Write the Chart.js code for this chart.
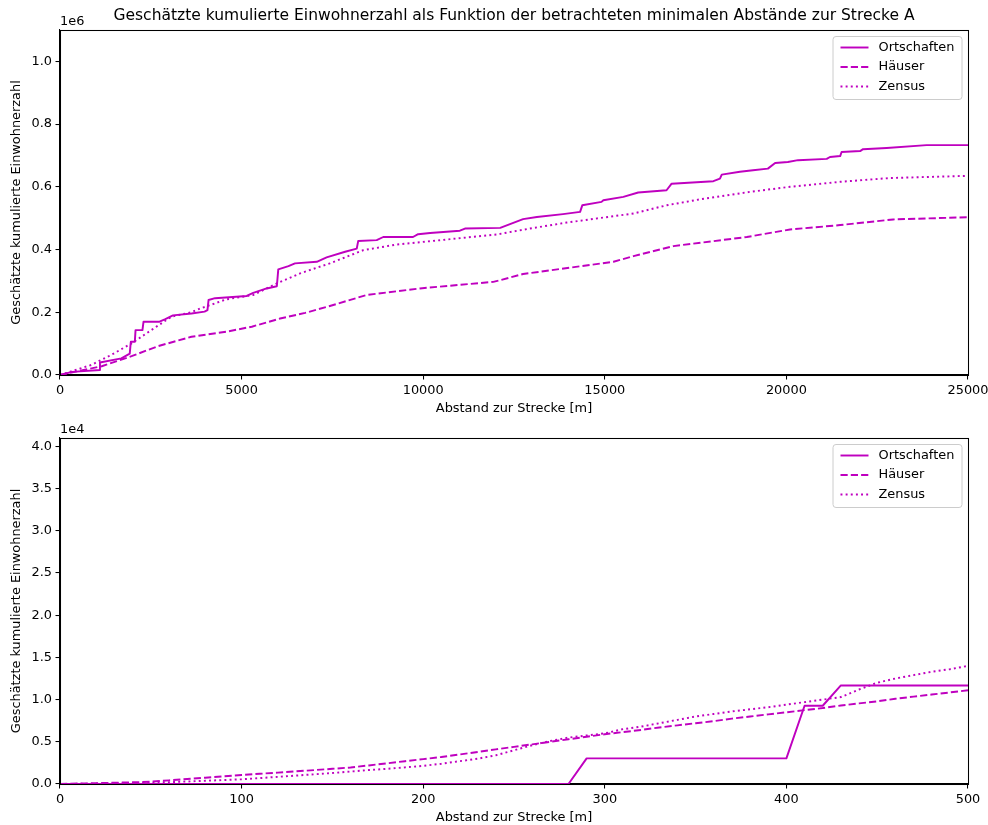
<!DOCTYPE html>
<html>
<head>
<meta charset="utf-8">
<script src="https://cdn.jsdelivr.net/npm/chart.js@4.4.0/dist/chart.umd.min.js"></script>
<style>
  html, body { margin: 0; padding: 0; background: #ffffff; }
  #wrap { position: relative; width: 988px; height: 825px; }
  canvas { position: absolute; left: 0; }
</style>
</head>
<body>
<div id="wrap">
  <canvas id="overview" width="988" height="420" style="top:0px"></canvas>
  <canvas id="nearfield" width="988" height="405" style="top:420px"></canvas>
</div>
<script>
// ---- Gesamtbereich 0 ... 25 km ----
const ortDist = [0, 330, 1100, 1100, 1690, 1920, 1950, 2060, 2080, 2270, 2300, 2740, 2900, 3110, 3620, 3980,
  4060, 4090, 4270, 5140, 5320, 5690, 5970, 6010, 6290, 6470, 7070, 7340, 7850, 8170, 8210, 8720, 8900,
  9720, 9860, 10190, 11010, 11150, 12120, 12390, 12750, 13130, 13850, 14320, 14380, 14910, 14960, 15510,
  15920, 16700, 16840, 17990, 18170, 18220, 18720, 19080, 19490, 19690, 20040, 20320, 21110, 21200, 21480,
  21520, 22030, 22110, 22760, 23860, 25000];
const ortPop = [0, 10000, 16000, 40000, 53000, 68000, 106000, 106000, 143000, 143000, 170000, 170000, 178000,
  190000, 196000, 202000, 207000, 239000, 245000, 252000, 262000, 276000, 283000, 337000, 347000, 356000,
  361000, 375000, 393000, 403000, 427000, 430000, 440000, 440000, 449000, 453000, 460000, 467000, 469000,
  481000, 497000, 504000, 513000, 520000, 541000, 552000, 557000, 568000, 582000, 589000, 610000, 618000,
  626000, 639000, 648000, 653000, 658000, 676000, 679000, 685000, 689000, 695000, 698000, 711000, 714000,
  720000, 724000, 733000, 733000];

const hausDist = [0, 1150, 1970, 2700, 3620, 4580, 5280, 6060, 6750, 7430, 8440, 9910, 11930, 12110, 12750,
  15240, 15790, 16890, 18910, 20100, 21480, 22940, 25000];
const hausPop = [0, 28000, 60000, 92000, 122000, 138000, 154000, 180000, 198000, 220000, 255000, 276000,
  297000, 302000, 322000, 361000, 379000, 411000, 440000, 464000, 478000, 496000, 503000];

const zensusDist = [0, 860, 1410, 1960, 2510, 3070, 3620, 3860, 4260, 4570, 5320, 5970, 6610, 7430, 8350,
  9270, 10650, 12020, 12940, 13950, 15790, 16700, 17620, 19000, 20100, 21480, 22850, 25000];
const zensusPop = [0, 32000, 64000, 100000, 143000, 186000, 200000, 212000, 228000, 241000, 255000, 292000,
  324000, 356000, 398000, 416000, 432000, 448000, 467000, 486000, 515000, 541000, 560000, 584000, 600000,
  616000, 628000, 635000];

const overviewXTicks = [0, 5000, 10000, 15000, 20000, 25000];
const overviewYTicks = [0, 200000, 400000, 600000, 800000, 1000000];

// ---- Nahbereich 0 ... 500 m (10-m-Raster) ----
const nearDist = [0, 10, 20, 30, 40, 50, 60, 70, 80, 90, 100, 110, 120, 130, 140, 150, 160, 170, 180, 190,
  200, 210, 220, 230, 240, 250, 260, 270, 280, 290, 300, 310, 320, 330, 340, 350, 360, 370, 380, 390,
  400, 410, 420, 430, 440, 450, 460, 470, 480, 490, 500];
const nearOrt = [0, 0, 0, 0, 0, 0, 0, 0, 0, 0, 0, 0, 0, 0, 0, 0, 0, 0, 0, 0,
  0, 0, 0, 0, 0, 0, 0, 0, 0, 3040, 3040, 3040, 3040, 3040, 3040, 3040, 3040, 3040, 3040, 3040,
  3040, 9270, 9270, 11680, 11680, 11680, 11680, 11680, 11680, 11680, 11680];
const nearHaus = [0, 50, 100, 150, 200, 270, 430, 590, 750, 910, 1070, 1210, 1350, 1500, 1650, 1800, 1960,
  2200, 2450, 2700, 2950, 3200, 3500, 3800, 4100, 4400, 4700, 5000, 5300, 5600, 5900, 6150, 6400, 6700,
  6950, 7200, 7450, 7750, 8000, 8250, 8500, 8750, 9000, 9300, 9550, 9800, 10100, 10350, 10600, 10850, 11100];
const nearZensus = [0, 20, 50, 80, 120, 160, 220, 300, 380, 470, 560, 700, 850, 1000, 1150, 1300, 1480,
  1650, 1800, 1970, 2150, 2400, 2700, 3000, 3400, 4000, 4600, 5100, 5500, 5750, 6000, 6500, 6800, 7200,
  7600, 8000, 8300, 8600, 8850, 9100, 9400, 9700, 10000, 10300, 11200, 12000, 12500, 12900, 13300, 13600, 14000];

const nearXTicks = [0, 100, 200, 300, 400, 500];
const nearYTicks = [0, 5000, 10000, 15000, 20000, 25000, 30000, 35000, 40000];

const seriesNames = ['Ortschaften', 'Häuser', 'Zensus'];
const TITLE = 'Geschätzte kumulierte Einwohnerzahl als Funktion der betrachteten minimalen Abstände zur Strecke A';
const X_LABEL = 'Abstand zur Strecke [m]';
const Y_LABEL = 'Geschätzte kumulierte Einwohnerzahl';

const MAGENTA = '#bf00bf';
const FONT = '"DejaVu Sans", sans-serif';
const FS = 12.9;
const LW = 1.94;
const DASHES = [[], [7.2, 3.1], [1.94, 3.2]];

function pts(xs, ys) { return xs.map((x, i) => ({ x: x, y: ys[i] })); }

function dataset(label, xs, ys, k) {
  return {
    label: label,
    data: pts(xs, ys),
    borderColor: MAGENTA,
    backgroundColor: MAGENTA,
    borderWidth: LW,
    borderDash: DASHES[k],
    borderCapStyle: 'butt',
    borderJoinStyle: 'round',
    pointRadius: 0,
    tension: 0,
    fill: false,
    clip: 4
  };
}

// Rahmen, Legende, Exponent und Titel
const decorations = {
  id: 'decorations',
  afterDraw(chart, args, opts) {
    const ctx = chart.ctx;
    const a = chart.chartArea;
    ctx.save();
    // vollständiger Achsenrahmen
    ctx.strokeStyle = '#000';
    ctx.lineWidth = 1.05;
    ctx.strokeRect(Math.round(a.left) + 0.5, Math.round(a.top) + 0.5,
      Math.round(a.right - a.left), Math.round(a.bottom - a.top));

    // Legende oben rechts
    const w = 129, h = 63;
    const lx = a.right - 6.5 - w, ly = a.top + 6;
    ctx.beginPath();
    if (ctx.roundRect) ctx.roundRect(lx + 0.5, ly + 0.5, w, h, 3); else ctx.rect(lx + 0.5, ly + 0.5, w, h);
    ctx.fillStyle = 'rgba(255,255,255,0.8)';
    ctx.fill();
    ctx.strokeStyle = '#cccccc';
    ctx.lineWidth = 1;
    ctx.stroke();
    ctx.font = FS + 'px ' + FONT;
    ctx.textBaseline = 'middle';
    ctx.textAlign = 'left';
    seriesNames.forEach((name, i) => {
      const cy = ly + 11.5 + i * 19.5;
      ctx.beginPath();
      ctx.setLineDash(DASHES[i]);
      ctx.lineCap = 'butt';
      ctx.strokeStyle = MAGENTA;
      ctx.lineWidth = LW;
      ctx.moveTo(lx + 8, cy);
      ctx.lineTo(lx + 36, cy);
      ctx.stroke();
      ctx.setLineDash([]);
      ctx.fillStyle = '#000';
      ctx.fillText(name, lx + 46, cy);
    });

    // Exponent der y-Achse
    ctx.fillStyle = '#000';
    ctx.font = FS + 'px ' + FONT;
    ctx.textAlign = 'left';
    ctx.textBaseline = 'alphabetic';
    ctx.fillText(opts.exponent, a.left, a.top - 5);

    // Gesamttitel
    if (opts.title) {
      ctx.font = '15.5px ' + FONT;
      ctx.textAlign = 'center';
      ctx.textBaseline = 'middle';
      ctx.fillText(opts.title, (a.left + a.right) / 2, 16);
    }
    ctx.restore();
  }
};

function makeChart(id, cfg) {
  const tickFont = { family: FONT, size: FS };
  return new Chart(document.getElementById(id), {
    type: 'line',
    data: {
      datasets: [
        dataset(seriesNames[0], cfg.xs[0], cfg.ys[0], 0),
        dataset(seriesNames[1], cfg.xs[1], cfg.ys[1], 1),
        dataset(seriesNames[2], cfg.xs[2], cfg.ys[2], 2)
      ]
    },
    options: {
      responsive: false,
      animation: false,
      devicePixelRatio: 1,
      layout: { padding: { top: cfg.padTop, right: 20, left: 0, bottom: 0 } },
      plugins: {
        legend: { display: false },
        tooltip: { enabled: false },
        decorations: { exponent: cfg.exponent, title: cfg.title }
      },
      scales: {
        x: {
          type: 'linear',
          min: 0,
          max: cfg.xMax,
          afterBuildTicks(s) { s.ticks = cfg.xTicks.map(v => ({ value: v })); },
          afterFit(s) { s.height = cfg.xAxisH; s.paddingLeft = 0; s.paddingRight = 0; },
          ticks: {
            color: '#000', font: tickFont, padding: 3.5,
            maxRotation: 0, autoSkip: false,
            callback: v => String(v)
          },
          grid: { drawOnChartArea: false, drawTicks: true, tickLength: 4.5, color: '#000', lineWidth: 1.05 },
          border: { display: true, color: '#000', width: 1.05 },
          title: { display: true, text: X_LABEL, color: '#000', font: tickFont, padding: { top: 0, bottom: cfg.xTitlePad } }
        },
        y: {
          type: 'linear',
          min: 0,
          max: cfg.yMax,
          afterBuildTicks(s) { s.ticks = cfg.yTicks.map(v => ({ value: v })); },
          afterFit(s) { s.width = 60; s.paddingTop = 0; s.paddingBottom = 0; },
          ticks: {
            color: '#000', font: tickFont, padding: 3.5,
            callback: v => (v / cfg.yScale).toFixed(1)
          },
          grid: { drawOnChartArea: false, drawTicks: true, tickLength: 4.5, color: '#000', lineWidth: 1.05 },
          border: { display: true, color: '#000', width: 1.05 },
          title: { display: true, text: Y_LABEL, color: '#000', font: tickFont, padding: { top: 9, bottom: 0 } }
        }
      }
    },
    plugins: [decorations]
  });
}

makeChart('overview', {
  xs: [ortDist, hausDist, zensusDist],
  ys: [ortPop, hausPop, zensusPop],
  xTicks: overviewXTicks, yTicks: overviewYTicks,
  padTop: 30, xAxisH: 45, xTitlePad: 4,
  xMax: 25000, yMax: 1100000, yScale: 1e6,
  exponent: '1e6', title: TITLE
});

makeChart('nearfield', {
  xs: [nearDist, nearDist, nearDist],
  ys: [nearOrt, nearHaus, nearZensus],
  xTicks: nearXTicks, yTicks: nearYTicks,
  padTop: 18, xAxisH: 41, xTitlePad: 0,
  xMax: 500, yMax: 41000, yScale: 1e4,
  exponent: '1e4', title: null
});
</script>
</body>
</html>
